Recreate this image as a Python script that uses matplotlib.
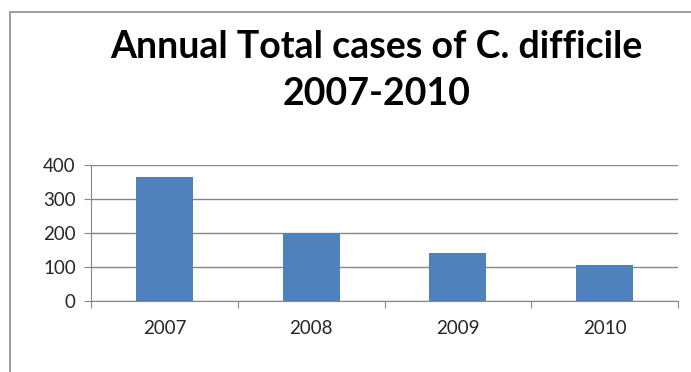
import matplotlib.pyplot as plt
from matplotlib.patches import Rectangle

# data
years = ['2007', '2008', '2009', '2010']
cases = [364, 199, 140, 107]
yticks = [0, 100, 200, 300, 400]

plt.rcParams['font.family'] = ['Lato', 'DejaVu Sans']

fig = plt.figure(figsize=(6.91, 3.72), dpi=100)
W, H = 691, 372

# chart frame (cropped on right and bottom)
fig.patches.append(Rectangle((10 / W, -0.1), 1.2, (H - 12) / H + 0.1,
                             transform=fig.transFigure, fill=False,
                             edgecolor='#8c8c8c', linewidth=1.2))

ax = fig.add_axes([91 / W, (H - 301) / H, (678 - 91) / W, (301 - 165) / H])

x = range(len(years))
ax.bar(x, cases, width=0.39, color='#4F81BD', zorder=3)

ax.set_xlim(-0.5, len(years) - 0.5)
ax.set_ylim(0, 400)
ax.set_yticks(yticks)
ax.set_yticklabels([str(v) for v in yticks], fontsize=13.5, color='#262626')
ax.set_xticks([i - 0.5 for i in range(len(years) + 1)])
ax.set_xticklabels([])
ax.set_xticks(list(x), minor=True)
ax.set_xticklabels(years, minor=True, fontsize=13.5, color='#262626')
ax.tick_params(axis='x', which='minor', length=0, pad=14)
ax.tick_params(axis='x', which='major', length=5, color='#868686', direction='out')
ax.tick_params(axis='y', length=5, color='#868686', direction='out', pad=6)

ax.grid(axis='y', color='#868686', linewidth=1, zorder=0)
for s in ['top', 'right']:
    ax.spines[s].set_visible(False)
for s in ['left', 'bottom']:
    ax.spines[s].set_color('#868686')

fig.text(0.545, (H - 47) / H, 'Annual Total cases of C. difficile',
         ha='center', va='center', fontsize=27, fontweight='bold')
fig.text(0.545, (H - 94) / H, '2007-2010',
         ha='center', va='center', fontsize=27, fontweight='bold')

fig.savefig('out.png', dpi=100)
